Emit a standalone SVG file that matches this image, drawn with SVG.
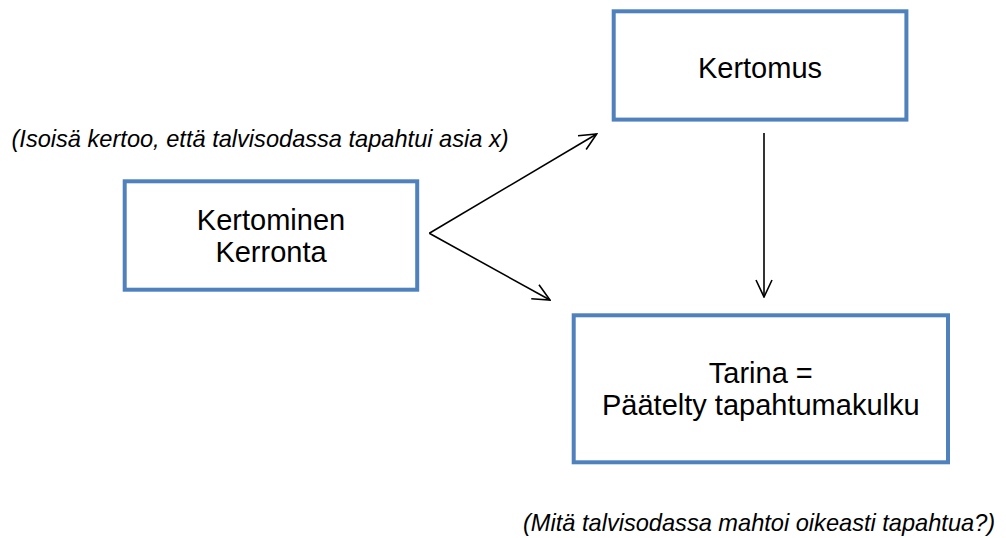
<svg xmlns="http://www.w3.org/2000/svg" width="1006" height="538" viewBox="0 0 1006 538">
<style>
.box{fill:#fff;stroke:#4f81bd;stroke-width:4;}
.t{font-family:"Liberation Sans",Arial,sans-serif;font-size:29px;fill:#000;text-anchor:middle;}
.lbl{font-family:"Liberation Sans",Arial,sans-serif;font-size:23.6px;font-style:italic;fill:#000;}
.c{stroke:#000;stroke-width:1.6;fill:none;}
</style>
<defs>
<marker id="ah" viewBox="0 0 20 20" refX="19" refY="10" markerWidth="20" markerHeight="20" markerUnits="userSpaceOnUse" orient="auto">
<path d="M2,2 L19,10 L2,18" fill="none" stroke="#000" stroke-width="1.6"/>
</marker>
</defs>
<rect width="1006" height="538" fill="#fff"/>
<g id="connectors">
<path class="c" d="M429.3,233.3 L596.7,134" marker-end="url(#ah)"/>
<path class="c" d="M429.3,233.3 L550,300" marker-end="url(#ah)"/>
<path class="c" d="M764,133 L764,297" marker-end="url(#ah)"/>
</g>
<g id="node-kertominen">
<rect class="box" x="124.7" y="181.3" width="292.5" height="108.4"/>
<text class="t" x="271" y="230">Kertominen</text>
<text class="t" x="271" y="262">Kerronta</text>
</g>
<g id="node-kertomus">
<rect class="box" x="613.7" y="11.3" width="292.7" height="108.3"/>
<text class="t" x="760" y="77.5">Kertomus</text>
</g>
<g id="node-tarina">
<rect class="box" x="573.7" y="315.3" width="374.3" height="147"/>
<text class="t" x="760.8" y="382.5">Tarina =</text>
<text class="t" x="760.8" y="415">Päätelty tapahtumakulku</text>
</g>
<g id="labels">
<text class="lbl" x="11.5" y="146.5">(Isoisä kertoo, että talvisodassa tapahtui asia x)</text>
<text class="lbl" x="523" y="530.5">(Mitä talvisodassa mahtoi oikeasti tapahtua?)</text>
</g>
</svg>
